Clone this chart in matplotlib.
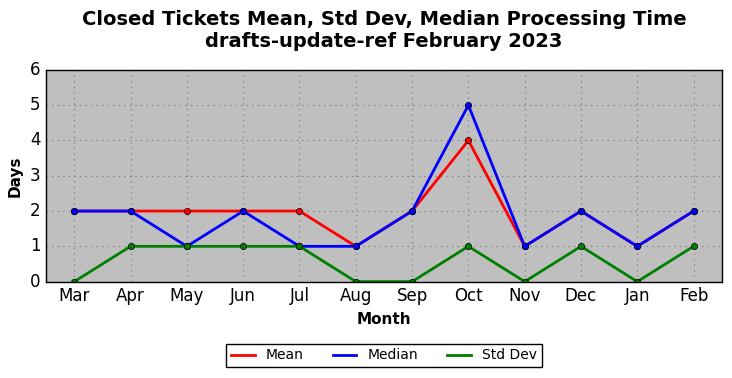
import matplotlib
matplotlib.use("Agg")
import matplotlib.pyplot as plt

months = ["Mar", "Apr", "May", "Jun", "Jul", "Aug", "Sep", "Oct", "Nov", "Dec", "Jan", "Feb"]
mean_days = [2, 2, 2, 2, 2, 1, 2, 4, 1, 2, 1, 2]
median_days = [2, 2, 1, 2, 1, 1, 2, 5, 1, 2, 1, 2]
std_days = [0, 1, 1, 1, 1, 0, 0, 1, 0, 1, 0, 1]

plt.style.use("classic")
fig = plt.figure(figsize=(7.32, 3.78), dpi=100)
ax = fig.add_axes([0.063, 0.255, 0.923, 0.56])
ax.set_facecolor("#bfbfbf")
ax.set_axisbelow(True)

x = list(range(len(months)))
ax.plot(x, mean_days, color="red", lw=2, marker="o", ms=4.5, mec="black", label="Mean")
ax.plot(x, median_days, color="blue", lw=2, marker="o", ms=4.5, mec="black", label="Median")
ax.plot(x, std_days, color="green", lw=2, marker="o", ms=4.5, mec="black", label="Std Dev")

ax.set_xlim(-0.5, len(months) - 0.5)
ax.set_ylim(0, 6)
ax.set_xticks(x)
ax.set_xticklabels(months)
ax.tick_params(length=0, labelsize=12)
ax.grid(True, color="gray", linestyle=":", lw=0.8)
ax.set_xlabel("Month", fontsize=11, fontweight="bold")
ax.set_ylabel("Days", fontsize=11, fontweight="bold")
ax.set_title("Closed Tickets Mean, Std Dev, Median Processing Time\ndrafts-update-ref February 2023",
             fontsize=14, fontweight="bold", y=1.077)
leg = ax.legend(loc="upper center", bbox_to_anchor=(0.5, -0.26), ncol=3, fontsize=10,
                frameon=True, fancybox=False, handlelength=1.7, handletextpad=0.8,
                columnspacing=2.1, borderpad=0.35, numpoints=1)
for h in leg.get_lines():
    h.set_marker("")

fig.savefig("out.png", dpi=100, facecolor="white")
